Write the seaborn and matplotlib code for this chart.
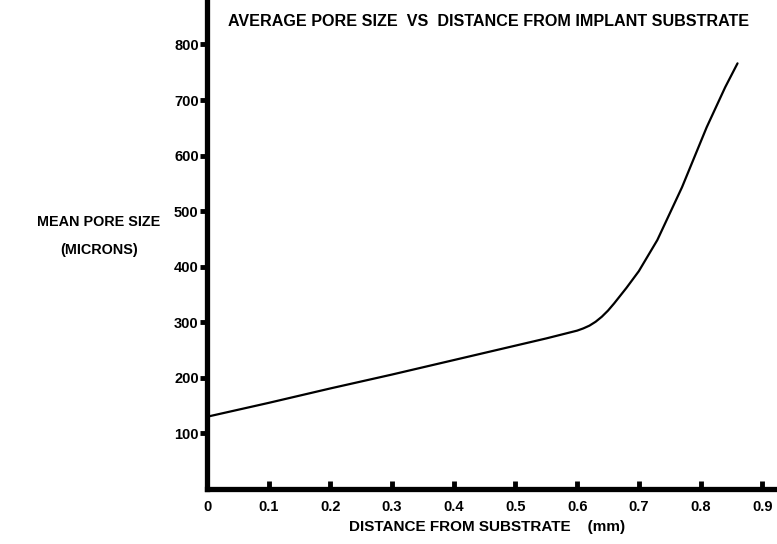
import numpy as np
import pandas as pd
import matplotlib
matplotlib.use("Agg")
import matplotlib.pyplot as plt
import seaborn as sns

# distance from substrate (mm) and mean pore size (microns)
distance = [0, 0.1, 0.2, 0.3, 0.4, 0.5, 0.55, 0.6, 0.61, 0.62, 0.63, 0.64,
            0.65, 0.66, 0.68, 0.70, 0.73, 0.77, 0.81, 0.84, 0.86]
pore_size = [130, 155, 181, 206, 232, 258, 271, 285, 289, 294, 301, 310,
             321, 334, 362, 392, 448, 543, 651, 723, 766]

x_ticks = [0, 0.1, 0.2, 0.3, 0.4, 0.5, 0.6, 0.7, 0.8, 0.9]
x_labels = ["0", "0.1", "0.2", "0.3", "0.4", "0.5", "0.6", "0.7", "0.8", "0.9"]
y_ticks = [100, 200, 300, 400, 500, 600, 700, 800]

df = pd.DataFrame({"distance": distance, "pore": pore_size})

sns.set_style("white")
plt.rcParams["font.family"] = ["Liberation Sans", "DejaVu Sans"]
plt.rcParams["text.color"] = "black"

fig = plt.figure(figsize=(7.77, 5.44), dpi=100)
ax = fig.add_axes([207 / 777, 1 - 489 / 544, 1 - 207 / 777, 489 / 544])

sns.lineplot(data=df, x="distance", y="pore", ax=ax, color="black",
             linewidth=1.6, estimator=None, sort=False)

ax.set_xlim(0, 0.924)
ax.set_ylim(0, 880)

for side in ["top", "right"]:
    ax.spines[side].set_visible(False)
for side in ["left", "bottom"]:
    ax.spines[side].set_linewidth(3.8)
    ax.spines[side].set_color("black")

ax.set_xticks(x_ticks)
ax.set_xticklabels(x_labels, fontsize=10.5, fontweight="bold")
ax.set_yticks(y_ticks)
ax.set_yticklabels([str(v) for v in y_ticks], fontsize=10.5, fontweight="bold")
ax.tick_params(axis="x", bottom=True, direction="in", length=6, width=3.5,
               pad=8, colors="black")
ax.tick_params(axis="y", left=True, direction="out", length=5, width=3.5,
               pad=1, colors="black")
ax.set_xlabel("")
ax.set_ylabel("")

fig.text(228 / 777, 1 - 22 / 544, "AVERAGE PORE SIZE  VS  DISTANCE FROM IMPLANT SUBSTRATE",
         fontsize=11.6, fontweight="bold", ha="left", va="center", color="black")
fig.text(99 / 777, 1 - 222 / 544, "MEAN PORE SIZE", fontsize=10.4,
         fontweight="bold", ha="center", va="center", color="black")
fig.text(99 / 777, 1 - 250 / 544, "(MICRONS)", fontsize=10.4,
         fontweight="bold", ha="center", va="center", color="black")
fig.text(487 / 777, 1 - 527 / 544, "DISTANCE FROM SUBSTRATE    (mm)", fontsize=11,
         fontweight="bold", ha="center", va="center", color="black")

fig.savefig("out.png", dpi=100)
